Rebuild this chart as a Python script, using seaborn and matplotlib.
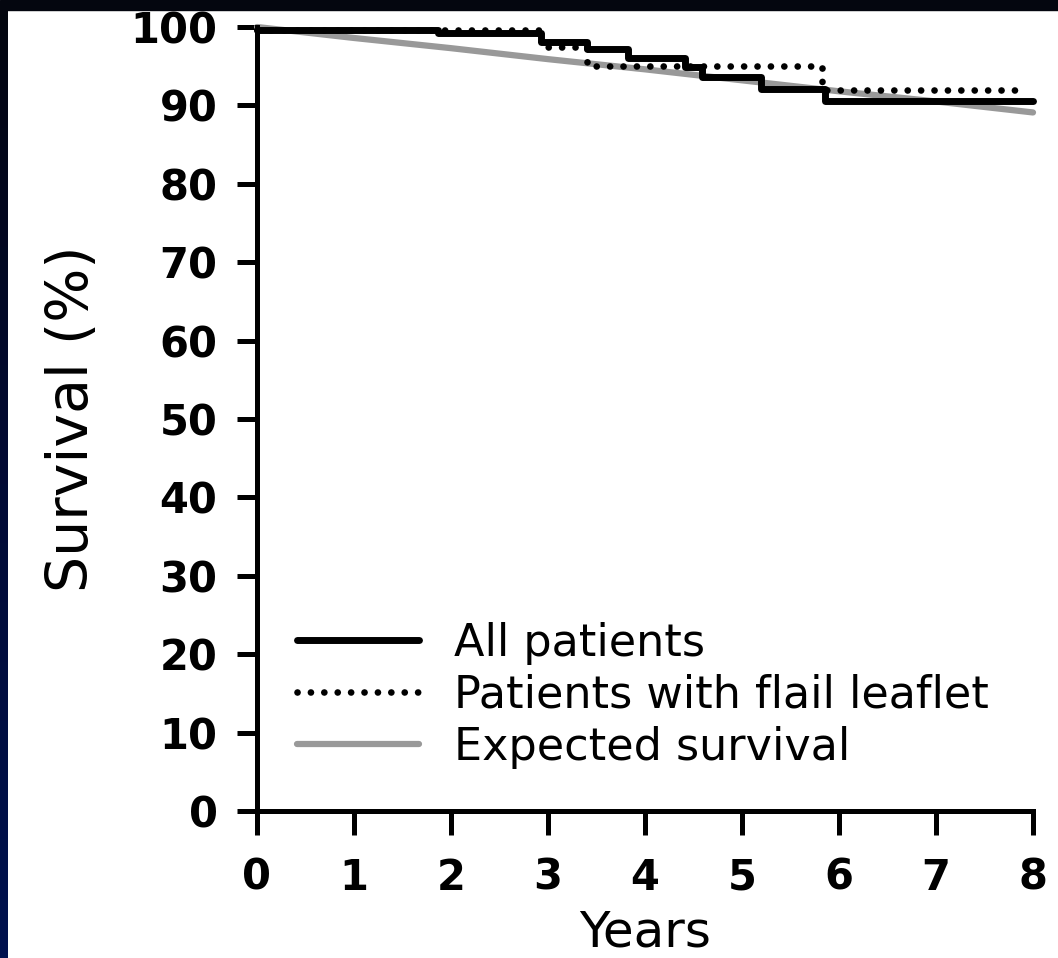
"""
Kaplan-Meier style survival curve (all patients / flail leaflet / expected)
"""
import numpy as np
import matplotlib
matplotlib.use('Agg')
import matplotlib.pyplot as plt
import seaborn as sns
from matplotlib.colors import LinearSegmentedColormap
from matplotlib.patches import Rectangle

# ========== data ==========
years_all = [0, 1.87, 2.93, 3.40, 3.82, 4.41, 4.59, 5.20, 5.86, 8.0]
surv_all = [99.6, 99.2, 98.1, 97.2, 96.1, 94.9, 93.6, 92.1, 90.6, 90.6]

years_flail = [0, 2.93, 3.40, 5.82, 7.9]
surv_flail = [99.6, 97.5, 95.0, 92.0, 92.0]

years_exp = [0, 1, 2, 3, 4, 5, 6, 7, 8]
surv_exp = [100, 98.6, 97.3, 95.9, 94.6, 93.2, 91.8, 90.5, 89.1]

labels = ['All patients', 'Patients with flail leaflet', 'Expected survival']
x_ticks = [0, 1, 2, 3, 4, 5, 6, 7, 8]
y_ticks = [0, 10, 20, 30, 40, 50, 60, 70, 80, 90, 100]

# ========== style ==========
sns.set_style('ticks')
plt.rcParams['font.family'] = ['DejaVu Sans']
plt.rcParams['text.color'] = 'black'
plt.rcParams['axes.labelcolor'] = 'black'

W, H = 1058, 958
fig = plt.figure(figsize=(W / 100, H / 100), dpi=100)
fig.patch.set_facecolor('white')

# dark navy frame (top band + left gradient band)
fig.patches.append(Rectangle((0, 1 - 10 / H), 1, 10 / H, transform=fig.transFigure,
                             color='#04060f', zorder=0))
gax = fig.add_axes([0, 0, 8 / W, 1 - 10 / H])
cmap = LinearSegmentedColormap.from_list('navy', ['#04060f', '#020a35', '#00124f'])
gax.imshow(np.linspace(0, 1, 256).reshape(-1, 1), cmap=cmap, aspect='auto')
gax.axis('off')

ax = fig.add_axes([257 / W, (H - 811) / H, 776 / W, 784 / H])

sns.lineplot(x=years_all, y=surv_all, ax=ax, color='black', lw=5,
             drawstyle='steps-post', estimator=None, label=labels[0],
             zorder=3, clip_on=False)
sns.lineplot(x=years_flail, y=surv_flail, ax=ax, color='black', lw=4.8,
             drawstyle='steps-post', estimator=None, label=labels[1],
             linestyle=(0, (0.01, 2.0)), dash_capstyle='round',
             zorder=4, clip_on=False)
sns.lineplot(x=years_exp, y=surv_exp, ax=ax, color='#999999', lw=4.5,
             estimator=None, label=labels[2], zorder=2, clip_on=False)

ax.set_xlim(0, 8)
ax.set_ylim(0, 100)
ax.set_xticks(x_ticks)
ax.set_yticks(y_ticks)
sns.despine(ax=ax)
for side in ['left', 'bottom']:
    ax.spines[side].set_linewidth(3.6)
    ax.spines[side].set_color('black')
    ax.spines[side].set_capstyle('projecting')

ax.tick_params(axis='y', length=14.4, width=3.6, pad=14, direction='out',
               labelsize=30, colors='black')
ax.tick_params(axis='x', length=17, width=3.6, pad=16, direction='out',
               labelsize=30, colors='black')
for lab in ax.get_xticklabels() + ax.get_yticklabels():
    lab.set_fontweight('bold')

ax.set_xlabel('Years', fontsize=36)
ax.set_ylabel('Survival (%)', fontsize=41)
ax.xaxis.set_label_coords(0.5, -0.124)
ax.yaxis.set_label_coords(-0.202, 0.5)

handles, _ = ax.get_legend_handles_labels()
ax.legend(handles, labels, loc='lower left', bbox_to_anchor=(0.0515, 0.054),
          frameon=False, fontsize=32, borderpad=0, borderaxespad=0,
          handlelength=2.75, handletextpad=0.78, labelspacing=0.2)

fig.savefig('out.png', dpi=100)
